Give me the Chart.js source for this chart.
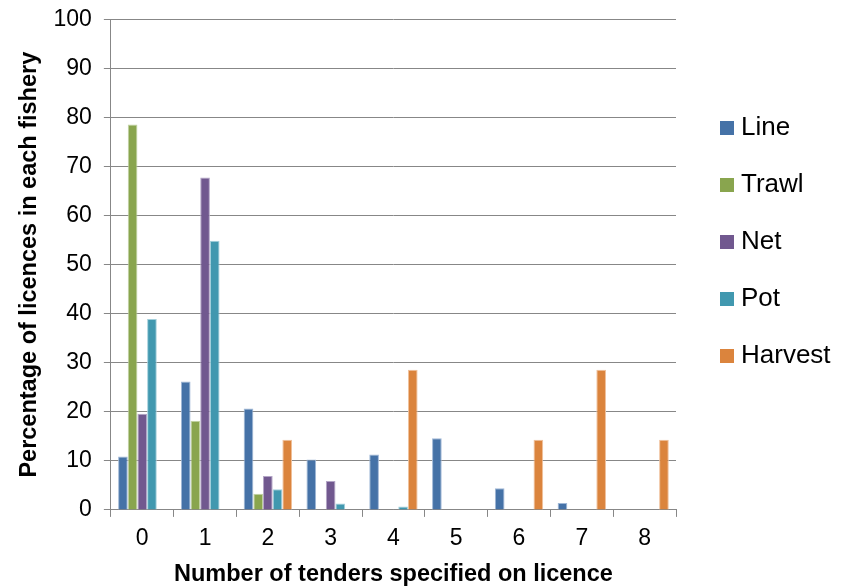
<!DOCTYPE html>
<html>
<head>
<meta charset="utf-8">
<script src="https://cdn.jsdelivr.net/npm/chart.js@4/dist/chart.umd.min.js"></script>
<style>
  html, body { margin: 0; padding: 0; background: #fff; }
  #wrap { width: 842px; height: 586px; }
</style>
</head>
<body>
<div id="wrap"><canvas id="chart" width="842" height="586"></canvas></div>
<script>
// Number of tenders specified on a licence, by fishery (% of licences)
const tenders = ['0', '1', '2', '3', '4', '5', '6', '7', '8'];
const line    = [10.9, 26.2, 20.7, 10.3, 11.3, 14.6, 4.4, 1.4, 0];
const trawl   = [78.6, 18.2, 3.3, 0, 0, 0, 0, 0, 0];
const net     = [19.6, 67.8, 6.9, 5.9, 0, 0, 0, 0, 0];
const pot     = [38.9, 54.9, 4.2, 1.3, 0.7, 0, 0, 0, 0];
const harvest = [0, 0, 14.3, 0, 28.6, 0, 14.3, 28.6, 14.3];
const yTicks  = [0, 10, 20, 30, 40, 50, 60, 70, 80, 90, 100];

const seriesNames  = ['Line', 'Trawl', 'Net', 'Pot', 'Harvest'];
const seriesData   = [line, trawl, net, pot, harvest];
const seriesColors = ['#4572A7', '#89A54E', '#71588F', '#4198AF', '#DB843D'];
const seriesEdges  = ['#9fb7d6', '#c2d3a5', '#b3a5c6', '#a3cfdb', '#f0c19c'];

const AXIS_GREY = '#878787';
const FONT = "'Liberation Sans', Arial, sans-serif";

// Small square swatch used as the legend marker
function swatch(color) {
  const c = document.createElement('canvas');
  c.width = 14;
  c.height = 14;
  const g = c.getContext('2d');
  g.fillStyle = color;
  g.fillRect(0, 0, 14, 14);
  return c;
}

// Keeps the legend narrow and places its column beside the plot
const legendPlacement = {
  id: 'legendPlacement',
  afterInit(chart) {
    const legend = chart.legend;
    const baseFit = legend.fit;
    legend.fit = function () {
      baseFit.call(this);
      if (!this.isHorizontal()) this.width = 166;
    };
  },
  afterLayout(chart) {
    chart.legend.left += 19;
    chart.legend.top += 84;
  }
};

new Chart(document.getElementById('chart'), {
  type: 'bar',
  data: {
    labels: tenders,
    datasets: seriesNames.map((name, i) => ({
      label: name,
      data: seriesData[i],
      backgroundColor: seriesColors[i],
      borderColor: seriesEdges[i],
      borderWidth: 1,
      pointStyle: swatch(seriesColors[i]),
      categoryPercentage: 0.77,
      barPercentage: 1.0
    }))
  },
  options: {
    responsive: false,
    animation: false,
    layout: { padding: { left: 18, top: 0, right: 0, bottom: 0 } },
    plugins: {
      tooltip: { enabled: false },
      legend: {
        position: 'right',
        align: 'start',
        labels: {
          usePointStyle: true,
          pointStyleWidth: 2,
          boxHeight: 14,
          padding: 31,
          color: '#000',
          font: { family: FONT, size: 26 }
        }
      }
    },
    scales: {
      x: {
        grid: { drawOnChartArea: false, drawTicks: true, tickLength: 7, color: AXIS_GREY, offset: true },
        border: { color: AXIS_GREY, width: 1 },
        ticks: { color: '#000', font: { family: FONT, size: 23 }, padding: 8 },
        title: {
          display: true,
          text: 'Number of tenders specified on licence',
          color: '#000',
          font: { family: FONT, size: 23.5, weight: 'bold', lineHeight: 1 },
          padding: { top: 2, bottom: 0 }
        }
      },
      y: {
        min: 0,
        max: 100,
        afterBuildTicks(scale) { scale.ticks = yTicks.map(v => ({ value: v })); },
        grid: { color: AXIS_GREY, tickLength: 7, lineWidth: 1 },
        border: { color: AXIS_GREY, width: 1 },
        ticks: { color: '#000', font: { family: FONT, size: 23, lineHeight: 0.65 }, padding: 12 },
        title: {
          display: true,
          text: 'Percentage of licences in each fishery',
          color: '#000',
          font: { family: FONT, size: 23.5, weight: 'bold', lineHeight: 1 },
          padding: { top: 0, bottom: 0 }
        }
      }
    }
  },
  plugins: [legendPlacement]
});
</script>
</body>
</html>
